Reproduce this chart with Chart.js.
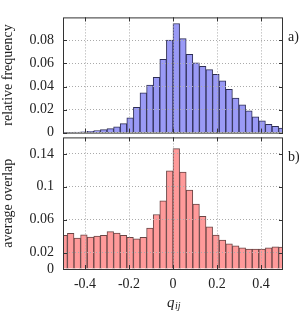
<!DOCTYPE html>
<html>
<head>
<meta charset="utf-8">
<script src="https://cdn.jsdelivr.net/npm/chart.js@4"></script>
<style>
  html, body { margin: 0; padding: 0; background: #fff; }
  #wrap { position: relative; width: 299px; height: 312px; overflow: hidden; }
  canvas { position: absolute; left: 0; }
  #freqChart { top: 0; }
  #overlapChart { top: 120px; }
</style>
</head>
<body>
<div id="wrap">
  <canvas id="freqChart" width="299" height="150"></canvas>
  <canvas id="overlapChart" width="299" height="192"></canvas>
</div>
<script>
// bin centres of q_ij, bins are 0.03 wide
const binCentres = [-0.495, -0.465, -0.435, -0.405, -0.375, -0.345, -0.315, -0.285, -0.255, -0.225,
  -0.195, -0.165, -0.135, -0.105, -0.075, -0.045, -0.015, 0.015, 0.045, 0.075,
  0.105, 0.135, 0.165, 0.195, 0.225, 0.255, 0.285, 0.315, 0.345, 0.375,
  0.405, 0.435, 0.465, 0.495];

// a) relative frequency
const relFrequency = [0.0002, 0.0003, 0.0005, 0.0007, 0.001, 0.0018, 0.0026, 0.0034, 0.005, 0.0078,
  0.0129, 0.0219, 0.0345, 0.0412, 0.0479, 0.0635, 0.0803, 0.0947, 0.0816, 0.068,
  0.0605, 0.0575, 0.0546, 0.0506, 0.0449, 0.0375, 0.030, 0.0241, 0.0189, 0.0137,
  0.0103, 0.0071, 0.0055, 0.004];

// b) average overlap
const avgOverlap = [0.041, 0.0435, 0.0377, 0.0415, 0.0389, 0.0401, 0.041, 0.0455, 0.0438, 0.041,
  0.0385, 0.0368, 0.0385, 0.0496, 0.0663, 0.083, 0.1194, 0.1464, 0.1179, 0.096,
  0.079, 0.0639, 0.0512, 0.0413, 0.0353, 0.0306, 0.0282, 0.0258, 0.0242, 0.0242,
  0.0242, 0.0258, 0.027, 0.0266];

const qTicks = [-0.4, -0.2, 0, 0.2, 0.4];
const freqTicks = [0, 0.02, 0.04, 0.06, 0.08];
const overlapTicks = [0, 0.02, 0.06, 0.1, 0.14];

Chart.defaults.font.family = '"Liberation Serif", "DejaVu Serif", serif';
Chart.defaults.font.size = 14;
Chart.defaults.color = '#222';

// frame with inward ticks (gnuplot style), panel label and axis label
const framePlugin = {
  id: 'frame',
  afterDraw(chart, args, opts) {
    const { ctx, chartArea: a, scales } = chart;
    ctx.save();
    ctx.strokeStyle = '#333';
    ctx.lineWidth = 1;
    ctx.beginPath();
    scales.x.ticks.forEach(t => {
      const px = Math.round(scales.x.getPixelForValue(t.value)) + 0.5;
      ctx.moveTo(px, a.bottom); ctx.lineTo(px, a.bottom - 4);
      ctx.moveTo(px, a.top); ctx.lineTo(px, a.top + 4);
    });
    scales.y.ticks.forEach(t => {
      const py = Math.round(scales.y.getPixelForValue(t.value)) + 0.5;
      ctx.moveTo(a.left, py); ctx.lineTo(a.left + 4, py);
      ctx.moveTo(a.right, py); ctx.lineTo(a.right - 4, py);
    });
    ctx.stroke();
    ctx.strokeRect(a.left + 0.5, a.top + 0.5, a.right - a.left - 1, a.bottom - a.top);

    ctx.fillStyle = '#222';
    ctx.font = '14px "Liberation Serif"';
    ctx.textBaseline = 'middle';
    ctx.textAlign = 'left';
    ctx.fillText(opts.label, 288, a.top + opts.labelDy);

    if (opts.xTitle) {
      ctx.textBaseline = 'alphabetic';
      ctx.font = 'italic 15px "Liberation Serif"';
      const w = ctx.measureText('q').width;
      ctx.fillText('q', 167, 186.5);
      ctx.font = 'italic 10px "Liberation Serif"';
      ctx.fillText('ij', 167 + w + 0.5, 188.5);
    }
    ctx.restore();
  }
};

function makeOptions(yMax, yTicks, yTitle, showX, label, labelDy, padBottom, padTop) {
  return {
    responsive: false,
    animation: false,
    layout: { padding: { left: 0, right: 16, top: padTop, bottom: padBottom } },
    plugins: {
      legend: { display: false },
      tooltip: { enabled: false },
      frame: { label: label, labelDy: labelDy, xTitle: showX }
    },
    scales: {
      x: {
        type: 'linear',
        min: -0.5,
        max: 0.5,
        offset: false,
        afterBuildTicks: axis => { axis.ticks = qTicks.map(v => ({ value: v })); },
        afterFit: axis => { axis.height = showX ? 43 : 0; },
        grid: { offset: false, color: '#aaa', drawTicks: false, z: 1, borderDash: [1, 2] },
        border: { display: false, dash: [1, 2] },
        ticks: { display: showX, padding: 7, callback: v => String(v) }
      },
      y: {
        min: 0,
        max: yMax,
        afterBuildTicks: axis => { axis.ticks = yTicks.map(v => ({ value: v })); },
        afterFit: axis => { axis.width = 63; },
        grid: { color: '#aaa', drawTicks: false, z: 1, borderDash: [1, 2] },
        border: { display: false, dash: [1, 2] },
        ticks: { padding: 9, callback: v => String(v) },
        title: { display: true, text: yTitle, padding: 0, font: { size: 14 } }
      }
    }
  };
}

new Chart(document.getElementById('freqChart'), {
  type: 'bar',
  data: {
    labels: binCentres,
    datasets: [{
      data: binCentres.map((q, i) => ({ x: q, y: relFrequency[i] })),
      backgroundColor: '#9a9af6',
      borderColor: '#2e2e55',
      borderWidth: 1,
      borderSkipped: 'bottom',
      barPercentage: 1,
      categoryPercentage: 1,
      clip: 0
    }]
  },
  options: makeOptions(0.1, freqTicks, 'relative frequency', false, 'a)', 20, 15, 0),
  plugins: [framePlugin]
});

new Chart(document.getElementById('overlapChart'), {
  type: 'bar',
  data: {
    labels: binCentres,
    datasets: [{
      data: binCentres.map((q, i) => ({ x: q, y: avgOverlap[i] })),
      backgroundColor: '#ff9a9a',
      borderColor: '#6a4545',
      borderWidth: 1,
      borderSkipped: 'bottom',
      barPercentage: 1,
      categoryPercentage: 1,
      clip: 0
    }]
  },
  options: makeOptions(0.16, overlapTicks, 'average overlap', true, 'b)', 20, 0, 15),
  plugins: [framePlugin]
});
</script>
</body>
</html>
